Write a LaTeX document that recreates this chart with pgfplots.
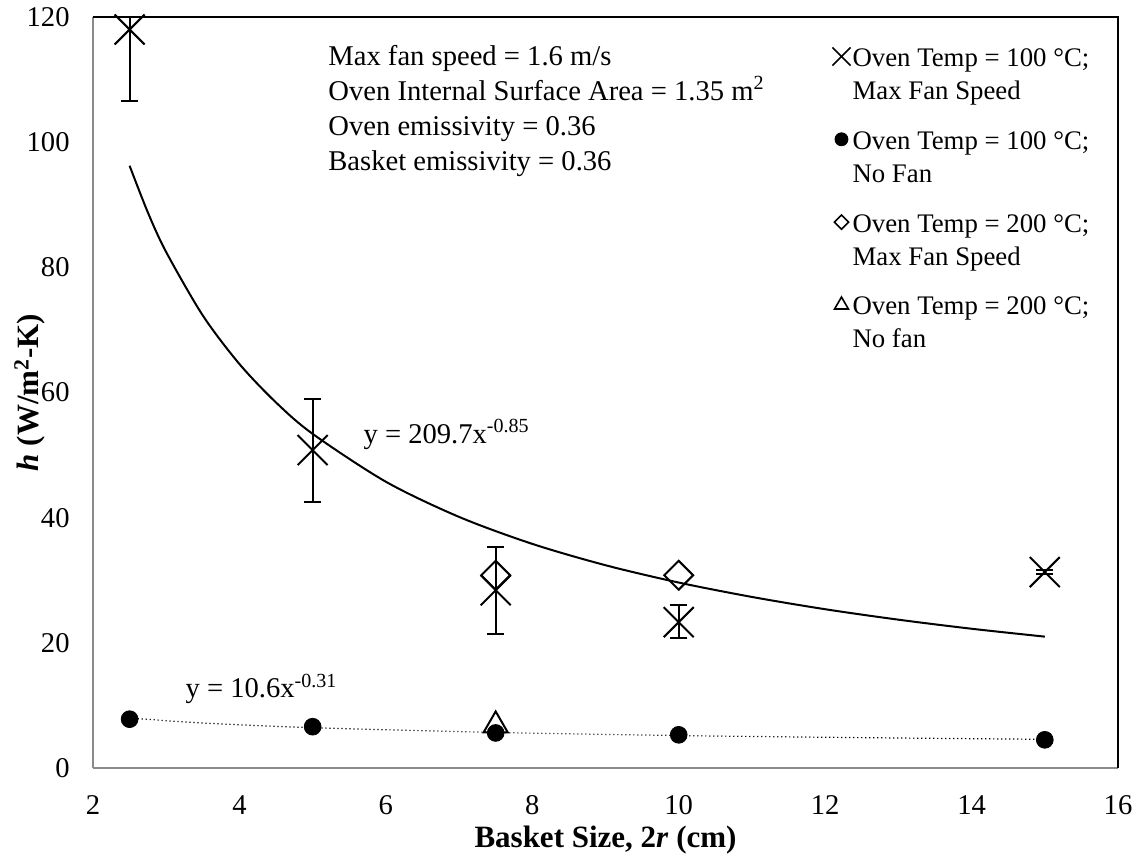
\documentclass[border=0pt]{standalone}
\usepackage{fontspec}
\setmainfont{Liberation Serif}
\usepackage{pgfplots}
\pgfplotsset{compat=1.18}
\usetikzlibrary{calc}
\definecolor{axgray}{HTML}{8A8A8A}

\begin{document}
\begin{tikzpicture}[font=\fontsize{14.3pt}{17.5pt}\selectfont]
\begin{axis}[name=ax, scale only axis, width=512.5pt, height=375.5pt,
  xmin=2, xmax=16, ymin=0, ymax=120, xtick={2,4,...,16}, ytick={0,20,...,120},
  axis lines=left, axis line style={-, axgray, line width=1pt},
  major tick length=0pt,
  /pgf/number format/assume math mode=true,
  xticklabel style={inner sep=0pt, yshift=-13.5pt},
  yticklabel style={inner sep=0pt, xshift=-11.5pt},
  xlabel={Basket Size, 2\textit{r} (cm)},
  ylabel={\textit{h} (W/m\textsuperscript{2}-K)},
  label style={font=\fontsize{15.5pt}{18pt}\selectfont\bfseries},
  xlabel style={at={(axis description cs:0.5,0)}, anchor=base, yshift=-40pt},
  ylabel style={at={(axis description cs:0,0.5)}, anchor=base, yshift=27pt},
  legend style={draw=none, fill=none, inner sep=0pt, at={(0.721,0.960)}, anchor=north west,
    column sep=1pt, row sep=14.5pt, nodes={inner sep=0pt, align=left},
    font=\fontsize{13.4pt}{16.5pt}\selectfont},
  legend cell align=left,
  legend image post style={yshift=9.5pt},
]
% legend
\addlegendimage{only marks, mark=x, mark size=6.4pt, mark options={line width=0.8pt}}
\addlegendentry{Oven Temp = 100 °C;\\Max Fan Speed}
\addlegendimage{only marks, mark=*, mark size=3.25pt}
\addlegendentry{Oven Temp = 100 °C;\\No Fan}
\addlegendimage{only marks, mark=square, mark size=2.5pt, mark options={rotate=45, line width=0.8pt}}
\addlegendentry{Oven Temp = 200 °C;\\Max Fan Speed}
\addlegendimage{only marks, mark=triangle, mark size=4pt, mark options={line width=0.8pt}}
\addlegendentry{Oven Temp = 200 °C;\\No fan}

% power trend, max fan
\addplot[forget plot, black, line width=1pt, smooth] coordinates {
 (2.5,96.23) (2.75,88.75) (3,82.43) (3.5,72.30) (4,64.55) (4.5,58.40) (5,53.39) (6,45.74)
 (7,40.12) (8,35.81) (9,32.40) (10,29.63) (11,27.33) (12,25.37) (13,23.70) (14,22.25) (15,20.99)};
% power trend, no fan
\addplot[forget plot, black, line width=0.6pt, dash pattern=on 0.6pt off 1.4pt, smooth] coordinates {
 (2.5,7.98) (3.5,7.19) (5,6.44) (7.5,5.68) (10,5.19) (12.5,4.85) (15,4.58)};

% 100 C, max fan speed
\addplot[forget plot, only marks, mark=x, mark size=10.6pt, mark options={line width=1pt},
  error bars/.cd, y dir=both, y explicit, error mark=|,
  error bar style={line width=1pt}, error mark options={mark size=4.2pt, line width=1pt}]
  coordinates {
  (2.5,118) += (0,2) -= (0,11.4)
  (5,50.8) += (0,8.2) -= (0,8.3)
  (7.5,28.4) += (0,6.9) -= (0,7.0)
  (10,23.3) += (0,2.7) -= (0,2.5)
  (15,31.3) += (0,0.35) -= (0,0.35)};
% 200 C, max fan speed
\addplot[forget plot, only marks, mark=square, mark size=5.1pt, mark options={rotate=45, line width=1pt}]
  coordinates {(7.5,30.8) (10,30.8)};
% 100 C, no fan
\addplot[forget plot, only marks, mark=*, mark size=4.2pt]
  coordinates {(2.5,7.8) (5,6.6) (7.5,5.6) (10,5.3) (15,4.5)};
% 200 C, no fan
\addplot[forget plot, only marks, mark=triangle, mark size=7pt, mark options={line width=1pt}]
  coordinates {(7.5,6.8)};

\node[anchor=base west, inner sep=0pt] at (axis cs:5.21,112.3) {Max fan speed = 1.6 m/s};
\node[anchor=base west, inner sep=0pt] at (axis cs:5.21,106.7) {Oven Internal Surface Area = 1.35 m\textsuperscript{2}};
\node[anchor=base west, inner sep=0pt] at (axis cs:5.21,101.1) {Oven emissivity = 0.36};
\node[anchor=base west, inner sep=0pt] at (axis cs:5.21,95.5) {Basket emissivity = 0.36};
\node[anchor=base west, inner sep=0pt] at (axis cs:5.69,51.9) {y = 209.7x\textsuperscript{-0.85}};
\node[anchor=base west, inner sep=0pt] at (axis cs:3.26,11.2) {y = 10.6x\textsuperscript{-0.31}};
\end{axis}
\draw[black, line width=1.2pt] (ax.north west) -- (ax.north east) -- (ax.south east);
\path ($(ax.south west)+(-46.5pt,-46.5pt)$) rectangle ($(ax.north east)+(10.5pt,8.5pt)$);
\end{tikzpicture}
\end{document}
